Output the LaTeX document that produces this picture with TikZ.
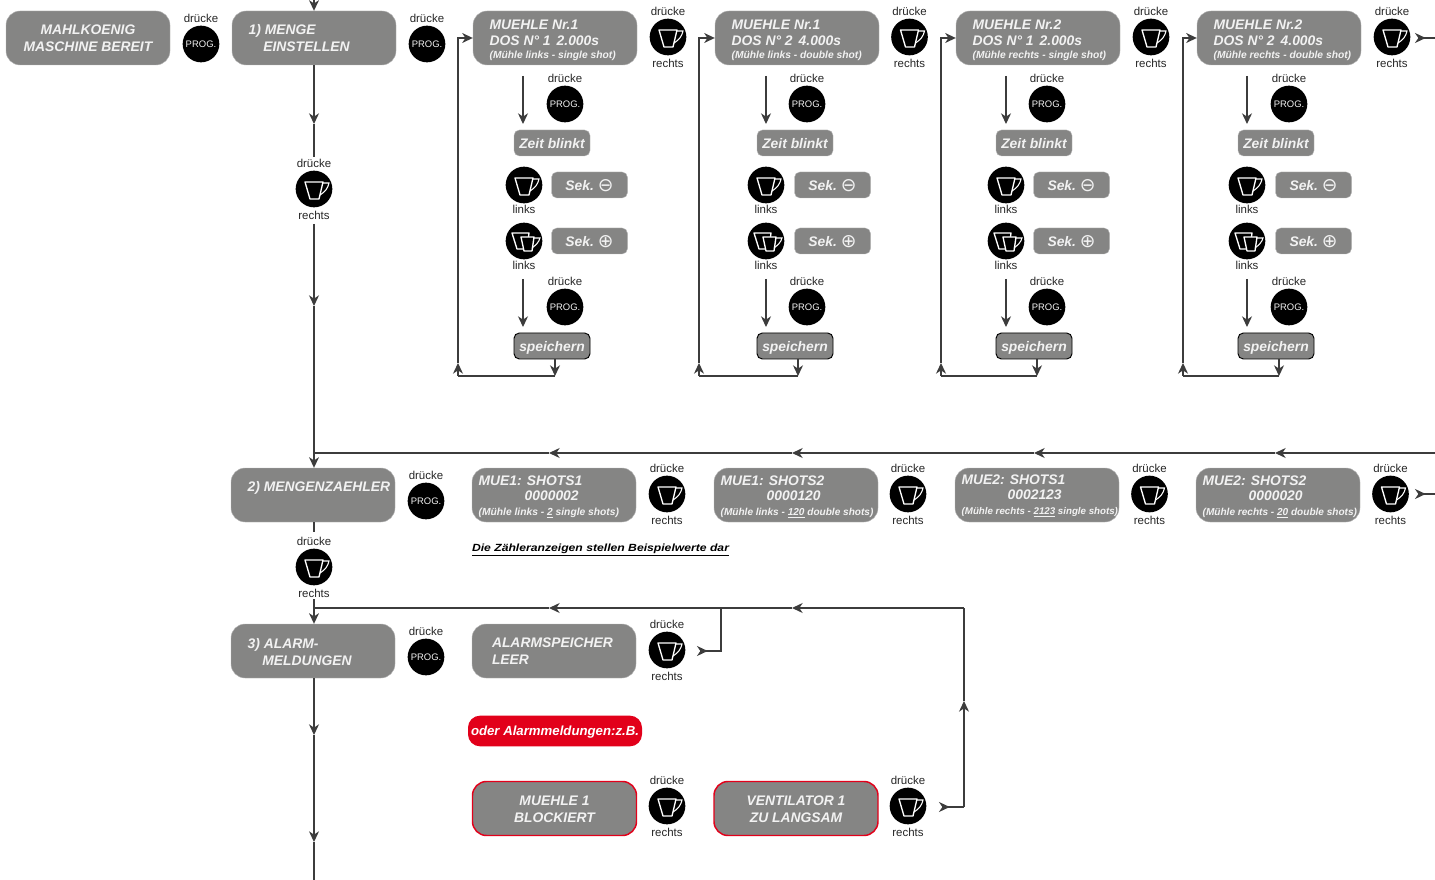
\documentclass[tikz,border=0pt]{standalone}
\usepackage{fontspec}
\setmainfont{Liberation Sans}
\setsansfont{Liberation Sans}
\newfontfamily\symfont{DejaVu Sans}
\usepackage{tikz}
\usetikzlibrary{arrows.meta, positioning, calc}

\definecolor{screengray}{HTML}{858584}
\definecolor{screenedge}{HTML}{B8B8B8}
\definecolor{screentext}{HTML}{F2F2F2}
\definecolor{linegray}{HTML}{3C3C3C}
\definecolor{alarmred}{HTML}{E2001A}

\newcommand{\screenfont}{\fontsize{10.4}{12.7}\selectfont\bfseries\itshape}
\newcommand{\ind}[1]{\hspace*{#1pt}}
\newcommand{\sym}[1]{\raisebox{-1.2pt}{\symfont\mdseries\upshape\fontsize{14}{14}\selectfont #1}}

\tikzset{
  screen/.style={rectangle,rounded corners=10.5pt,fill=screengray,draw=screenedge,line width=0.3pt,
    text=screentext,minimum width=123pt,text width=123pt,minimum height=40.5pt,inner xsep=0pt,inner ysep=0pt,
    align=flush left,font=\screenfont},
  alarmscreen/.style={screen,draw=alarmred,line width=1.1pt,align=flush center},
  smallscreen/.style={screen,rounded corners=4pt,minimum width=57pt,text width=57pt,minimum height=19.5pt,
    text height=9.6pt,text depth=1.8pt,align=flush center,font=\fontsize{10.4}{12}\selectfont\bfseries\itshape},
  btn/.style={circle,fill=black,minimum size=27.5pt,inner sep=0pt},
  proglabel/.style={text=screentext,font=\fontsize{7.1}{8}\selectfont},
  lbl/.style={inner sep=0pt,text=black!85,font=\fontsize{8.6}{9}\selectfont},
  line/.style={line width=0.9pt,color=linegray},
  flow/.style={line,-{Stealth[length=8pt,width=7.5pt,inset=2.5pt]}},
  backflow/.style={line,{Stealth[length=8pt,width=7.5pt,inset=2.5pt,reversed]}-},
  cup/.pic={
    \draw[white,line width=1pt,line join=round] (-9,-7) -- (9,-7) -- (5,10) -- (-4,10) -- cycle;
    \draw[white,line width=0.8pt] (9,-6) -- (15,-6) .. controls (14,-1) and (11,3) .. (6,6);
  },
  twocups/.pic={
    \draw[white,line width=1pt,line join=round] (-12,-8) -- (5,-8) -- (3,8) -- (-7,8) -- cycle;
    \draw[white,fill=black,line width=1pt,line join=round] (-3,-4) -- (10,-4) -- (8,10) -- (0,10) -- cycle;
    \draw[white,line width=0.8pt] (10,-3) -- (16,-3) .. controls (15,1) and (12,4) .. (8,7);
  }
}

% button with its two little captions
\newcommand{\progbtn}[2]{
  \node[btn,proglabel] (#1) at (#2) {PROG.};
  \node[lbl,above=2pt of #1] (#1top) {drücke};
}
\newcommand{\cupbtn}[3][cup]{
  \node[btn] (#2) at (#3) {};
  \pic at (#2) {#1};
}

\begin{document}
\begin{tikzpicture}[x=0.75pt,y=-0.75pt]
\useasboundingbox (0,0) rectangle (1435,880);

%top row
\node[screen,align=flush center] (ready) at (88,38) {MAHLKOENIG\\MASCHINE BEREIT};
\progbtn{progready}{201,44}
\node[screen] (menge) at (314,38) {\ind{12.5}1) MENGE\\\ind{23.5}EINSTELLEN};
\progbtn{progmenge}{427,44}
\cupbtn{cupmenge}{314,189}
\node[lbl,above=2pt of cupmenge] (cupmengetop) {drücke};
\node[lbl,below=2.5pt of cupmenge] (cupmengebot) {rechts};

%the four dose columns
\foreach \col/\bx/\rx/\ax/\px/\zx/\cx/\kx/\head/\dos/\subline in {
  1/555/458/523/565/552/524/668/{MUEHLE Nr.1}/{DOS N° 1\hspace{4.5pt}2.000s}/{(Mühle links - single shot)},
  2/797/699/766/807/795/766/909.5/{MUEHLE Nr.1}/{DOS N° 2\hspace{4.5pt}4.000s}/{(Mühle links - double shot)},
  3/1038/941/1006/1047/1034/1006/1151/{MUEHLE Nr.2}/{DOS N° 1\hspace{4.5pt}2.000s}/{(Mühle rechts - single shot)},
  4/1279/1183/1247/1289/1276/1247/1392/{MUEHLE Nr.2}/{DOS N° 2\hspace{4.5pt}4.000s}/{(Mühle rechts - double shot)}}
{
  \node[screen] (mue\col) at (\bx,38) {\ind{12.5}\rule{0pt}{11pt}\head\\[-0.7pt]\ind{12.5}\dos\\[-3pt]\ind{12.5}{\fontsize{7.7}{9}\selectfont\subline}};
  \cupbtn{cup\col}{\kx,37}
  \node[lbl,above=2pt of cup\col] (cup\col top) {drücke};
  \node[lbl,below=2.5pt of cup\col] (cup\col bot) {rechts};

  \progbtn{proga\col}{\px,104}
  \node[smallscreen] (zeit\col) at (\zx,143) {Zeit blinkt};
  \cupbtn{minus\col}{\cx,185}
  \node[lbl,below=1.2pt of minus\col] (minus\col bot) {links};
  \node[smallscreen] (sekm\col) at ($(\zx,185)+(37.5,0)$) {Sek.\ \sym{⊖}};
  \cupbtn[twocups]{plus\col}{\cx,241}
  \node[lbl,below=1.2pt of plus\col] (plus\col bot) {links};
  \node[smallscreen] (sekp\col) at ($(\zx,241)+(37.5,0)$) {Sek.\ \sym{⊕}};
  \progbtn{progb\col}{\px,307}
  \node[smallscreen,draw=black,line width=0.7pt] (save\col) at (\zx,346) {speichern};

  \coordinate (afrom\col) at (\ax,76);
  \coordinate (ato\col) at (\ax,124);
  \coordinate (bfrom\col) at (\ax,279);
  \coordinate (bto\col) at (\ax,327);
  \coordinate (bot\col) at ($(\zx,376)+(3,0)$);
  \coordinate (ret\col) at (\rx,376);
  \coordinate (rtip\col) at (\rx,363);

  \draw[flow] (afrom\col) -- (ato\col);
  \draw[flow] (bfrom\col) -- (bto\col);
  \draw[flow] (save\col.south -| bot\col) -- (bot\col);
  \draw[line] (bot\col) -- (ret\col);
  \draw[flow] (ret\col) -- (rtip\col);
  \draw[flow] (rtip\col) |- (mue\col.west);
}

%counter row
\node[screen] (zaehler) at (313,495) {\ind{12.5}2) MENGENZAEHLER\\[-3pt]\strut};
\progbtn{progzaehler}{426,501}
\cupbtn{cupzaehler}{314,567}
\node[lbl,above=2pt of cupzaehler] (cupzaehlertop) {drücke};
\node[lbl,below=2.5pt of cupzaehler] (cupzaehlerbot) {rechts};

\foreach \col/\bx/\kx/\nudge/\subsize/\head/\shots/\subline in {
  1/554/667/0/7.7/{MUE1: SHOTS1}/0000002/{(Mühle links - \underline{2} single shots)},
  2/796/908/0/7.55/{MUE1: SHOTS2}/0000120/{(Mühle links - \underline{120} double shots)},
  3/1037/1149.5/3/7.3/{MUE2: SHOTS1}/0002123/{(Mühle rechts - \underline{2123} single shots)},
  4/1278/1390.5/0/7.55/{MUE2: SHOTS2}/0000020/{(Mühle rechts - \underline{20} double shots)}}
{
  \node[screen] (shots\col) at (\bx,495) {\ind{5}\rule{0pt}{10pt}\head\\[-1.5pt]\ind{39.5}\shots\\[-1.5pt]\ind{5}\mbox{\fontsize{\subsize}{9}\selectfont\subline}\rule[-\nudge pt]{0pt}{0pt}};
  \cupbtn{cups\col}{\kx,494}
  \node[lbl,above=2pt of cups\col] (cups\col top) {drücke};
  \node[lbl,below=2.5pt of cups\col] (cups\col bot) {rechts};
}
\node[inner sep=0pt,font=\fontsize{7.8}{9}\selectfont\bfseries\itshape,xscale=1.17] (note) at (600.5,550) {\underline{Die Zähleranzeigen stellen Beispielwerte dar}};

%alarm row
\node[screen] (alarm) at (313,651) {\ind{12.5}\rule{0pt}{8.7pt}3) ALARM-\\\ind{23.5}MELDUNGEN};
\progbtn{progalarm}{426,657}
\node[screen] (leer) at (554,651) {\ind{15}ALARMSPEICHER\\\ind{15}LEER};
\cupbtn{cupleer}{667,650}
\node[lbl,above=2pt of cupleer] (cupleertop) {drücke};
\node[lbl,below=2.5pt of cupleer] (cupleerbot) {rechts};

\node[rectangle,rounded corners=9pt,fill=alarmred,text=white,minimum width=130.5pt,minimum height=23pt,inner sep=0pt,text depth=0pt,
  font=\fontsize{9.9}{12}\selectfont\bfseries\itshape] (oder) at (555,731) {oder Alarmmeldungen:z.B.};

\node[alarmscreen] (block) at (554.5,808.5) {\rule{0pt}{8.7pt}MUEHLE 1\\BLOCKIERT};
\cupbtn{cupblock}{667,806}
\node[lbl,above=2pt of cupblock] (cupblocktop) {drücke};
\node[lbl,below=2.5pt of cupblock] (cupblockbot) {rechts};
\node[alarmscreen] (venti) at (796,808.5) {\rule{0pt}{8.7pt}VENTILATOR 1\\ZU LANGSAM};
\cupbtn{cupventi}{908,806}
\node[lbl,above=2pt of cupventi] (cupventitop) {drücke};
\node[lbl,below=2.5pt of cupventi] (cupventibot) {rechts};

%main line
\coordinate (topin) at (314,0);
\coordinate (m1) at (314,124);
\coordinate (m2) at (314,157);
\coordinate (m3) at (314,224);
\coordinate (m4) at (314,306);
\coordinate (m5) at (314,402);
\coordinate (m6) at (314,532);
\coordinate (m7) at (314,599);
\coordinate (m8) at (314,735);
\coordinate (m9) at (314,842);
\coordinate (m10) at (314,880);
\draw[flow] (topin) -- (menge.north);
\draw[flow] (menge.south) -- (m1);
\draw[line] (m1) -- (m2);
\draw[flow] (m3) -- (m4);
\draw[line] (m4) -- (m5);
\draw[flow] (m5) -- (zaehler.north -| m5);
\draw[line] (zaehler.south -| m6) -- (m6);
\draw[flow] (m7) -- (alarm.north -| m7);
\draw[flow] (alarm.south -| m8) -- (m8);
\draw[flow] (m8) -- (m9);
\draw[line] (m9) -- (m10);

%return from the counters
\coordinate (h1) at (1435,453);
\coordinate (h2) at (314,453);
\coordinate (h3) at (549,453);
\coordinate (h4) at (792,453);
\coordinate (h5) at (1034,453);
\coordinate (h6) at (1275,453);
\draw[flow] (h1) -- (h6);
\draw[flow] (h6) -- (h5);
\draw[flow] (h5) -- (h4);
\draw[flow] (h4) -- (h3);
\draw[line] (h3) -- (h2);

%outgoing ends on the right
\coordinate (outa) at (1415,38);
\coordinate (outaend) at (1435,38);
\coordinate (outb) at (1415,494);
\coordinate (outbend) at (1435,494);
\draw[backflow] (outa) -- (outaend);
\draw[backflow] (outb) -- (outbend);

%return from the alarms
\coordinate (a1) at (697,651);
\coordinate (a2) at (721,651);
\coordinate (a3) at (721,608);
\coordinate (a4) at (549,608);
\coordinate (a5) at (314,608);
\coordinate (a6) at (939,807);
\coordinate (a7) at (964,807);
\coordinate (a8) at (964,701);
\coordinate (a9) at (964,608);
\coordinate (a10) at (792,608);
\draw[backflow] (a1) -- (a2) -- (a3);
\draw[flow] (a3) -- (a4);
\draw[line] (a4) -- (a5);
\draw[backflow] (a6) -- (a7);
\draw[flow] (a7) -- (a8);
\draw[line] (a8) -- (a9);
\draw[flow] (a9) -- (a10);
\draw[line] (a10) -- (a3);
\end{tikzpicture}
\end{document}
